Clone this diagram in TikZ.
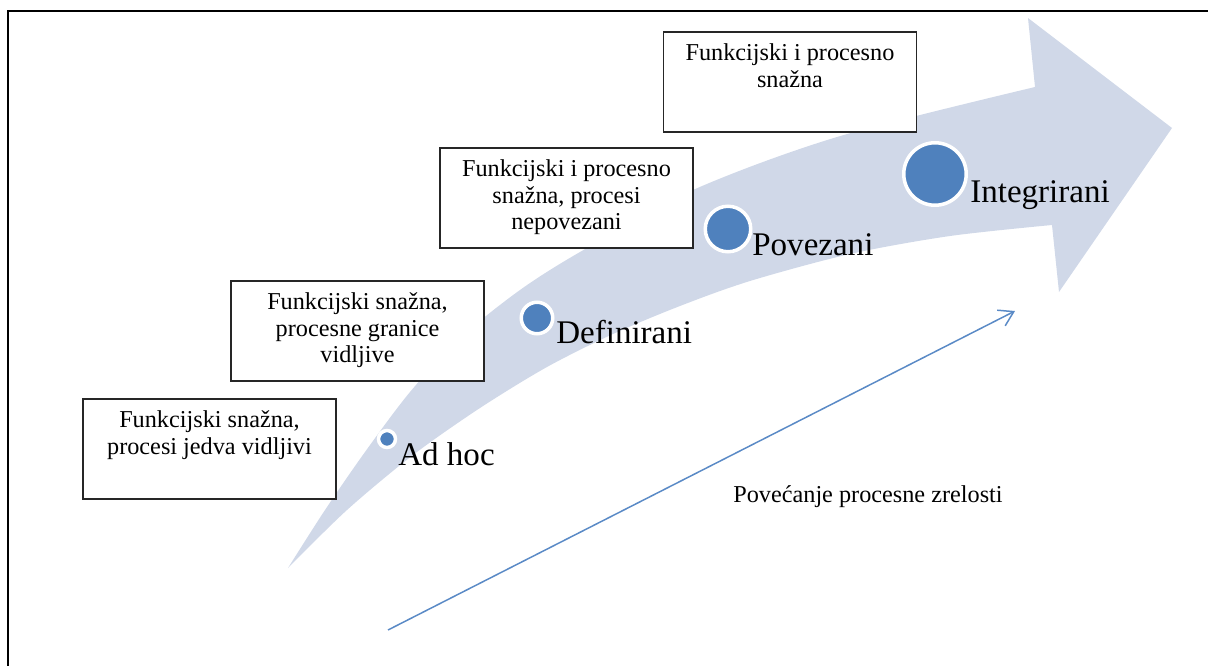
\documentclass[tikz,border=0pt]{standalone}
\usepackage{fontspec}
\setmainfont{Liberation Serif}
\usepackage{xcolor}
\usepackage{tikz}
\usetikzlibrary{arrows.meta,positioning}

\definecolor{bandfill}{HTML}{D0D8E8}
\definecolor{krugblue}{HTML}{4F81BD}
\definecolor{lineblue}{HTML}{5A8AC6}

\newcommand{\opis}[1]{\parbox[c][2cm][t]{5.06cm}{\centering\rule{0pt}{16.2pt}#1}}

\begin{document}
\begin{tikzpicture}[x=0.02cm,y=-0.02cm,
    opisbox/.style={draw=black!85,line width=0.8pt,fill=white,inner sep=0pt,
        font=\fontsize{13.8}{15.1}\selectfont},
    krug/.style={circle,fill=krugblue,draw=white,line width=2pt,inner sep=0pt},
    razina/.style={anchor=base west,inner sep=0pt,font=\fontsize{18.8}{22}\selectfont}]

\useasboundingbox (0,0) rectangle (1208,666);

% okvir
\draw[line width=1.1pt] (8,666) -- (8,11) -- (1208,11);

% zakrivljena strelica
\fill[bandfill] plot[smooth] coordinates {(288,568) (325,510) (365,452) (410,392)
        (460,338) (520,290) (580,252) (693,190) (837,137) (1035,87)}
    -- (1028,18) -- (1172,128) -- (1059,292)
    -- plot[smooth] coordinates {(1052,225) (950,236) (850,254) (750,281)
        (680,306) (613,334) (547,367) (480,408) (413,455) (347,510) (288,568)}
    -- cycle;

% opisi
\node[opisbox] (B_1) at (209.5,449) {\opis{Funkcijski snažna,\\procesi jedva vidljivi}};
\node[opisbox] (B_2) at (357.5,331) {\opis{Funkcijski snažna,\\procesne granice\\vidljive}};
\node[opisbox] (B_3) at (566.5,198) {\opis{Funkcijski i procesno\\snažna, procesi\\nepovezani}};
\node[opisbox] (B_4) at (790,82) {\opis{Funkcijski i procesno\\snažna}};

% razine
\node[krug,minimum size=0.34cm] (C_1) at (387,439) {};
\node[krug,minimum size=0.63cm] (C_2) at (537,318) {};
\node[krug,minimum size=0.91cm] (C_3) at (728,229) {};
\node[krug,minimum size=1.25cm] (C_4) at (935,174) {};

\node[razina] (L_1) at (398,465) {Ad hoc};
\node[razina] (L_2) at (556,343) {Definirani};
\node[razina] (L_3) at (752,255) {Povezani};
\node[razina] (L_4) at (970,202) {Integrirani};

% zrelost
\coordinate (S) at (388,630);
\coordinate (E) at (1015,311);
\draw[lineblue,line width=0.85pt,-{Straight Barb[length=8pt,width=10pt]}] (S) -- (E);

\node[anchor=base west,inner sep=0pt,font=\fontsize{13.8}{16}\selectfont] (Z) at (733,502)
    {Povećanje procesne zrelosti};

\end{tikzpicture}
\end{document}
